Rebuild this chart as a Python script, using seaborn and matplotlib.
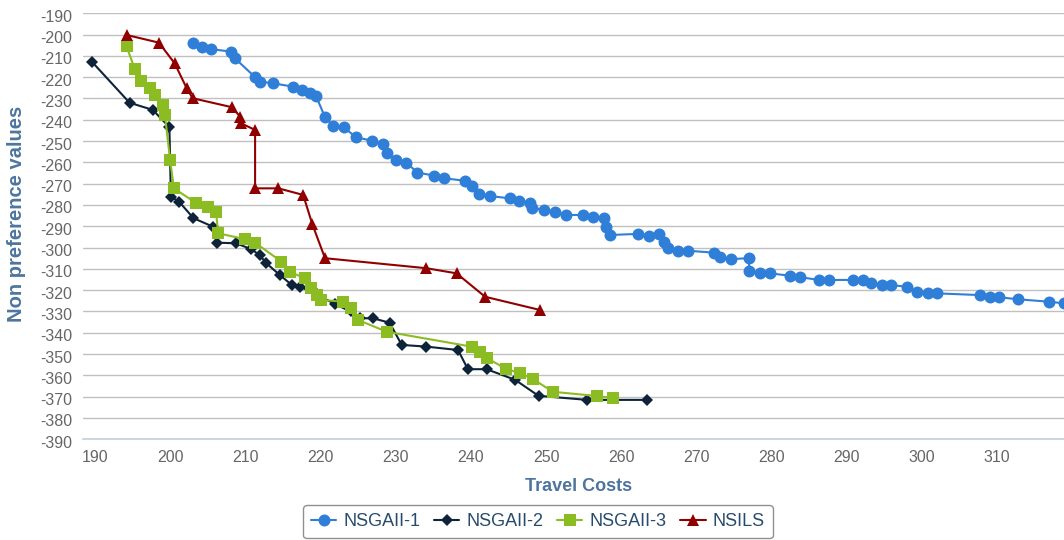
"""Pareto fronts: travel costs vs non preference values"""

import numpy as np
import pandas as pd
import matplotlib
matplotlib.use("Agg")
import matplotlib.pyplot as plt
import matplotlib.transforms as mtransforms
import seaborn as sns

# NSGAII-1 (blue circles)
nsga1_cost = [203.0, 204.2, 205.5, 208.1, 208.6, 211.3, 212.0, 213.7, 216.4, 217.6,
              218.6, 219.4, 220.6, 221.7, 223.1, 224.7, 226.8, 228.3, 228.8, 230.0,
              231.4, 232.9, 235.1, 236.4, 239.2, 240.1, 241.1, 242.5, 245.2, 246.4,
              247.9, 248.2, 249.7, 251.2, 252.7, 254.9, 256.2, 257.7, 258.0, 258.5,
              262.2, 263.7, 265.0, 265.7, 266.2, 267.6, 268.9, 272.4, 273.1, 274.6,
              277.0, 277.0, 278.5, 279.8, 282.4, 283.8, 286.3, 287.6, 290.8, 292.1,
              293.2, 294.7, 295.9, 298.0, 299.3, 300.8, 302.0, 307.7, 309.0, 310.3,
              312.8, 316.9, 318.9]
nsga1_pref = [-204.1, -206.0, -206.9, -208.0, -211.1, -220.0, -222.1, -222.9, -224.5, -226.0,
              -227.3, -228.8, -238.8, -242.9, -243.5, -248.2, -249.8, -251.4, -255.4, -258.9,
              -260.1, -264.8, -266.2, -267.5, -268.6, -271.1, -274.8, -275.8, -276.9, -278.0,
              -278.9, -281.5, -282.3, -283.4, -284.7, -284.7, -285.5, -286.2, -290.5, -294.1,
              -293.6, -294.6, -293.8, -297.2, -300.3, -301.6, -301.5, -302.4, -304.3, -305.4,
              -305.0, -310.8, -312.1, -312.1, -313.2, -313.9, -315.2, -315.2, -315.2, -315.2,
              -316.5, -317.6, -317.6, -318.4, -320.7, -321.5, -321.5, -322.3, -323.3, -323.3,
              -324.3, -325.4, -326.2]

# NSGAII-2 (dark diamonds)
nsga2_cost = [189.6, 194.6, 197.7, 199.9, 200.1, 201.2, 203.1, 205.7, 206.2, 208.8,
              210.8, 211.9, 212.8, 214.6, 216.2, 217.3, 219.5, 221.9, 224.0, 225.2,
              227.0, 229.2, 230.8, 234.1, 238.3, 239.6, 242.1, 245.9, 249.0, 255.5,
              263.4]
nsga2_pref = [-212.8, -232.0, -235.4, -243.5, -276.1, -278.5, -286.2, -290.2, -297.7, -298.0,
              -300.8, -303.5, -307.4, -312.9, -317.6, -318.4, -322.0, -326.5, -330.0, -333.2,
              -333.2, -335.3, -345.7, -346.5, -348.1, -357.1, -357.1, -362.1, -369.6, -371.5,
              -371.5]

# NSGAII-3 (green squares)
nsga3_cost = [194.2, 195.3, 196.1, 197.3, 198.0, 199.1, 199.3, 200.0, 200.5, 203.5,
              205.1, 206.1, 206.4, 210.0, 211.3, 214.8, 215.9, 217.9, 218.8, 219.5,
              220.1, 223.0, 224.0, 225.0, 228.8, 240.1, 241.2, 242.2, 244.7, 246.6,
              248.3, 250.9, 256.8, 258.9]
nsga3_pref = [-205.5, -216.3, -221.8, -225.2, -228.4, -233.1, -237.7, -258.9, -272.2, -279.2,
              -280.8, -283.1, -293.3, -296.1, -297.7, -306.6, -311.3, -314.4, -319.1, -322.3,
              -324.6, -325.4, -328.5, -334.0, -339.5, -346.5, -348.9, -352.0, -357.0, -359.0,
              -361.8, -367.7, -369.7, -370.6]

# NSILS (red triangles)
nsils_cost = [194.2, 198.5, 200.6, 202.2, 203.0, 208.2, 209.3, 209.4, 211.3, 211.3,
              214.4, 217.7, 218.9, 220.6, 234.1, 238.1, 241.9, 249.2]
nsils_pref = [-200.2, -203.8, -213.5, -225.2, -229.9, -234.1, -238.5, -241.6, -244.8, -272.2,
              -272.2, -275.3, -288.9, -305.0, -309.7, -312.1, -323.1, -329.3]

series = [
    ("NSGAII-1", nsga1_cost, nsga1_pref, "#2f7ed8", "o", 8.6),
    ("NSGAII-2", nsga2_cost, nsga2_pref, "#0d233a", "D", 6.5),
    ("NSGAII-3", nsga3_cost, nsga3_pref, "#8bbc21", "s", 8.4),
    ("NSILS", nsils_cost, nsils_pref, "#910000", "^", 9.0),
]

sns.set_style("white")
plt.rcParams['font.family'] = ['Liberation Sans', 'DejaVu Sans']
plt.rcParams['axes.unicode_minus'] = False

fig = plt.figure(figsize=(10.64, 5.4), dpi=100)
ax = fig.add_axes([0.0783, 0.1865, 0.9217, 0.789])

for name, xs, ys, color, marker, msize in series:
    df = pd.DataFrame({"cost": xs, "pref": ys})
    sns.lineplot(data=df, x="cost", y="pref", ax=ax, estimator=None, sort=False,
                 color=color, marker=marker, markersize=msize, markeredgewidth=0,
                 linewidth=1.5, label=name)

if ax.get_legend() is not None:
    ax.get_legend().remove()

ax.set_xlim(188.45, 318.9)
ax.set_ylim(-390, -190)
ax.set_xticks(np.arange(190, 311, 10))
ax.set_yticks(np.arange(-390, -189, 10))

ax.grid(axis='y', color='#C0C0C0', linewidth=1)
ax.grid(axis='x', visible=False)
ax.set_axisbelow(True)
for side in ['top', 'right', 'left']:
    ax.spines[side].set_visible(False)
ax.spines['bottom'].set_color('#C0D0E0')
ax.spines['bottom'].set_linewidth(1.2)

ax.tick_params(axis='x', colors='#C0D0E0', length=7, width=1, pad=1,
               labelcolor='#666666', labelsize=11.5)
ax.tick_params(axis='y', length=0, pad=8, labelcolor='#666666', labelsize=11.5)

# y labels sit a little below their grid lines
shift = mtransforms.ScaledTranslation(0, -2.5 / 100, fig.dpi_scale_trans)
for lbl in ax.get_yticklabels():
    lbl.set_transform(lbl.get_transform() + shift)

ax.set_xlabel("Travel Costs", fontsize=13, fontweight='bold', color='#4d759e')
ax.set_ylabel("Non preference values", fontsize=14.5, fontweight='bold', color='#4d759e')
ax.xaxis.set_label_coords(0.505, -0.091)
ax.yaxis.set_label_coords(-0.058, 0.53)

handles, labels = ax.get_legend_handles_labels()
leg = fig.legend(handles, labels, loc='center', bbox_to_anchor=(538 / 1064, 0.034),
                 ncol=4, frameon=True, fancybox=True, fontsize=13,
                 handlelength=1.4, handletextpad=0.4, columnspacing=0.75,
                 borderpad=0.45, edgecolor='#909090', framealpha=1)
leg.get_frame().set_linewidth(1)
for t in leg.get_texts():
    t.set_color('#274b6d')

fig.savefig("out.png", dpi=100)
